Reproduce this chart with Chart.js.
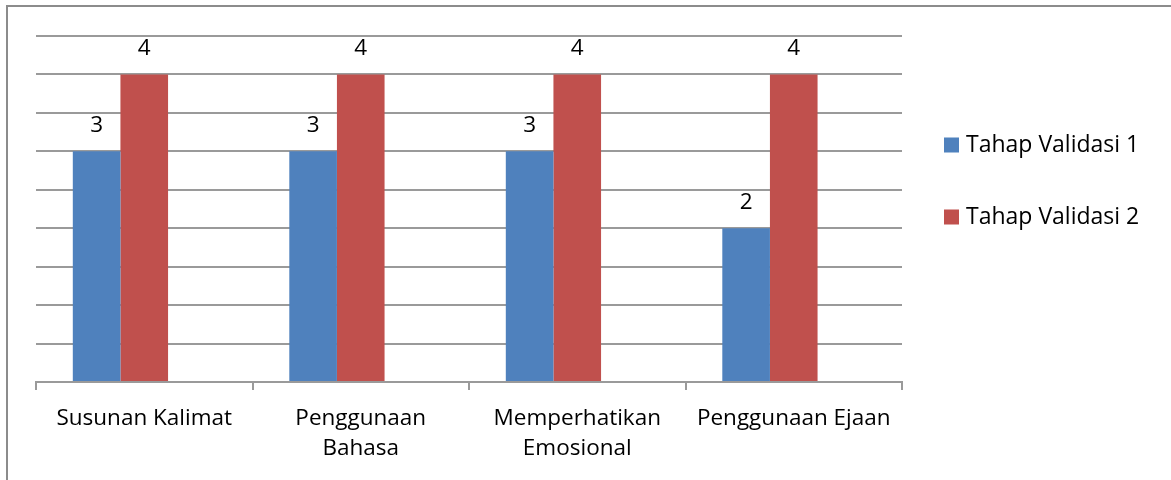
<!DOCTYPE html>
<html>
<head>
<meta charset="utf-8">
<script src="https://cdn.jsdelivr.net/npm/chart.js@4"></script>
<style>
  html, body { margin: 0; padding: 0; background: #fff; }
  #wrap { width: 1171px; height: 480px; position: relative; }
</style>
</head>
<body>
<div id="wrap"><canvas id="c" width="1171" height="480"></canvas></div>
<script>
const categories = ['Susunan Kalimat', ['Penggunaan', 'Bahasa'], ['Memperhatikan', 'Emosional'], 'Penggunaan Ejaan'];
const seriesNames = ['Tahap Validasi 1', 'Tahap Validasi 2'];
const validasi1 = [3, 3, 3, 2];
const validasi2 = [4, 4, 4, 4];
const emptySeries = [null, null, null, null];
const colors = ['#4F81BD', '#C0504D'];

const FONT = "'Open Sans', 'Noto Sans', sans-serif";

const framePlugin = {
  id: 'frame',
  beforeDraw(chart) {
    const ctx = chart.ctx;
    ctx.save();
    ctx.fillStyle = '#ffffff';
    ctx.fillRect(0, 0, chart.width, chart.height);
    ctx.strokeStyle = '#8c8c8c';
    ctx.lineWidth = 2;
    ctx.beginPath();
    ctx.moveTo(7, chart.height + 2);
    ctx.lineTo(7, 6);
    ctx.lineTo(chart.width + 2, 6);
    ctx.stroke();
    ctx.restore();
  }
};

const valueLabels = {
  id: 'valueLabels',
  afterDatasetsDraw(chart) {
    const ctx = chart.ctx;
    ctx.save();
    ctx.font = '22.5px ' + FONT;
    ctx.fillStyle = '#000';
    ctx.textAlign = 'center';
    ctx.textBaseline = 'alphabetic';
    chart.data.datasets.forEach((ds, i) => {
      const meta = chart.getDatasetMeta(i);
      meta.data.forEach((bar, j) => {
        const v = ds.data[j];
        if (v === null || v === undefined) return;
        ctx.fillText(String(v), bar.x, bar.y - 19);
      });
    });
    ctx.restore();
  }
};

const sideLegend = {
  id: 'sideLegend',
  afterDraw(chart) {
    const ctx = chart.ctx;
    ctx.save();
    ctx.font = '23px ' + FONT;
    ctx.textAlign = 'left';
    ctx.textBaseline = 'alphabetic';
    const x = chart.chartArea.right + 42;
    seriesNames.forEach((name, i) => {
      const base = 152 + i * 72;
      ctx.fillStyle = colors[i];
      ctx.fillRect(x, base - 14.5, 15, 15);
      ctx.fillStyle = '#000';
      ctx.fillText(name, x + 22, base);
    });
    ctx.restore();
  }
};

new Chart(document.getElementById('c'), {
  type: 'bar',
  data: {
    labels: categories,
    datasets: [
      { label: seriesNames[0], data: validasi1, backgroundColor: colors[0] },
      { label: seriesNames[1], data: validasi2, backgroundColor: colors[1] },
      { label: '', data: emptySeries, backgroundColor: 'rgba(0,0,0,0)' }
    ]
  },
  options: {
    responsive: false,
    devicePixelRatio: 1,
    animation: false,
    layout: { padding: { left: 36, top: 36, right: 269, bottom: 0 } },
    datasets: { bar: { categoryPercentage: 0.66, barPercentage: 1 } },
    plugins: {
      legend: { display: false },
      tooltip: { enabled: false },
      title: { display: false }
    },
    scales: {
      x: {
        offset: true,
        grid: { display: true, drawOnChartArea: false, offset: true, tickLength: 8, color: '#9a9a9a', lineWidth: 2 },
        border: { display: true, color: '#9a9a9a', width: 2 },
        ticks: {
          autoSkip: false, maxRotation: 0, minRotation: 0,
          color: '#000', padding: 14,
          font: { family: FONT, size: 22.5, lineHeight: 30 / 22.5 }
        },
        afterFit(scale) { scale.height = 98; }
      },
      y: {
        min: 0, max: 4.5,
        ticks: { display: false, stepSize: 0.5 },
        grid: { color: '#9a9a9a', lineWidth: 2, drawTicks: false },
        border: { display: false },
        afterFit(scale) { scale.width = 0; }
      }
    }
  },
  plugins: [framePlugin, valueLabels, sideLegend]
});
</script>
</body>
</html>
